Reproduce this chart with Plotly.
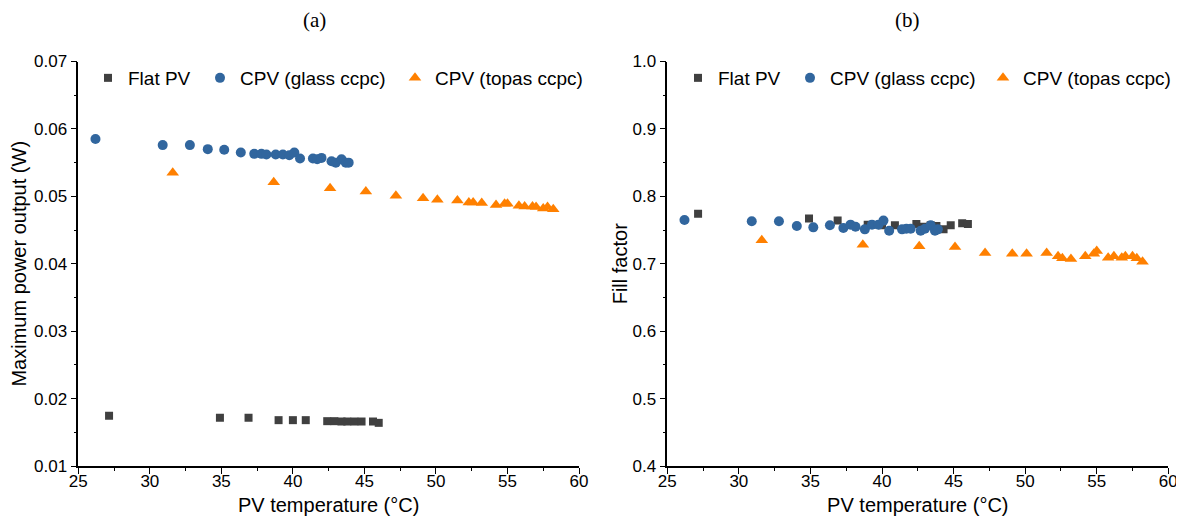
import plotly.graph_objects as go

# ---------------- data ----------------
flat_T = [27.15, 34.9, 36.9, 39.0, 40.0, 40.9, 42.4, 42.9, 43.4, 43.8, 44.3, 44.8, 45.6, 46.0]
flat_P = [0.01745, 0.01715, 0.01715, 0.0168, 0.0168, 0.0168, 0.01665, 0.01665, 0.0166, 0.0166,
          0.0166, 0.0166, 0.0166, 0.0164]
flat_FF = [0.774, 0.767, 0.764, 0.758, 0.757, 0.757, 0.759, 0.755, 0.757, 0.756, 0.751, 0.757,
           0.760, 0.759]

glass_T = [26.2, 30.9, 32.8, 34.05, 35.2, 36.36, 37.3, 37.8, 38.15, 38.8, 39.3, 39.75, 40.1,
           40.5, 41.4, 41.7, 42.0, 42.7, 43.0, 43.4, 43.7, 43.9]
glass_P = [0.0585, 0.0576, 0.0576, 0.0570, 0.0569, 0.0565, 0.0563, 0.0563, 0.0562, 0.0562,
           0.0562, 0.0561, 0.0565, 0.0556, 0.0556, 0.0555, 0.0557, 0.0552, 0.0550, 0.0555,
           0.0550, 0.0550]
glass_FF = [0.765, 0.763, 0.763, 0.756, 0.754, 0.757, 0.753, 0.758, 0.755, 0.751, 0.758, 0.758,
            0.764, 0.749, 0.751, 0.752, 0.752, 0.749, 0.752, 0.757, 0.749, 0.751]

topas_T = [31.6, 38.66, 42.6, 45.1, 47.2, 49.1, 50.1, 51.5, 52.3, 52.6, 53.2, 54.2, 54.8, 55.0,
           55.8, 56.2, 56.75, 57.0, 57.5, 57.8, 58.2]
topas_P = [0.0535, 0.0521, 0.0512, 0.0507, 0.0501, 0.0497, 0.0495, 0.0494, 0.0491, 0.0491,
           0.0490, 0.0487, 0.0489, 0.0489, 0.0486, 0.0485, 0.0485, 0.0484, 0.0482, 0.0484, 0.0481]
topas_FF = [0.735, 0.728, 0.726, 0.725, 0.716, 0.715, 0.715, 0.716, 0.711, 0.708, 0.707, 0.711,
            0.715, 0.719, 0.709, 0.711, 0.709, 0.711, 0.711, 0.708, 0.703]

series_names = ["Flat PV", "CPV (glass ccpc)", "CPV (topas ccpc)"]
colors = ["#404040", "#31669e", "#ff8000"]
symbols = ["square", "circle", "triangle-up"]
sizes = [8, 10, 11]

# page body margin of the browser (8px) is compensated for
OFF = 8
W, H = 1184 - OFF, 529 - OFF
FONT = "Liberation Sans, Arial, sans-serif"
SERIF = "Liberation Serif, Times New Roman, serif"


def px2x(p):
    return (p - OFF) / W


def py2y(p):
    return 1 - (p - OFF) / H


fig = go.Figure()

# legend text start positions (reference pixels) for each panel
legend_text_px = [[128, 240, 435], [718, 830, 1023]]
legend_y_px = 78

panels = [
    ("x", "y", [flat_P, glass_P, topas_P]),
    ("x2", "y2", [flat_FF, glass_FF, topas_FF]),
]
Ts = [flat_T, glass_T, topas_T]
legend_layouts = {}
k = 0
for p, (xa, ya, ys) in enumerate(panels):
    for i in range(3):
        k += 1
        lgname = "legend" if k == 1 else "legend%d" % k
        fig.add_trace(go.Scatter(
            x=Ts[i], y=ys[i], mode="markers", name=series_names[i],
            xaxis=xa, yaxis=ya, legend=lgname, showlegend=True,
            marker=dict(symbol=symbols[i], color=colors[i], size=sizes[i], line=dict(width=0)),
        ))
        legend_layouts[lgname] = dict(
            orientation="h", yanchor="middle", xanchor="left", bgcolor="rgba(0,0,0,0)",
            font=dict(family=FONT, size=19, color="black"), itemwidth=30,
            x=px2x(legend_text_px[p][i] - 40), y=py2y(legend_y_px),
        )

top_px, bot_px = 61.5, 466
TICKFONT = dict(family=FONT, size=17, color="black")
TITLEFONT = dict(family=FONT, size=20, color="black")
common_x = dict(
    range=[25, 60], dtick=5, tick0=25, showline=True, linecolor="black", linewidth=1.5,
    ticks="outside", ticklen=6, tickwidth=1.2, tickcolor="black", showgrid=False, zeroline=False,
    minor=dict(ticks="outside", ticklen=3, tickwidth=1.2, tickcolor="black", dtick=2.5),
    tickfont=TICKFONT, automargin=False, ticklabelstandoff=-7,
    title=dict(text="PV temperature (°C)", font=TITLEFONT, standoff=8),
)
common_y = dict(
    showline=True, linecolor="black", linewidth=1.5, automargin=False,
    ticks="outside", ticklen=6, tickwidth=1.2, tickcolor="black", showgrid=False, zeroline=False,
    tickfont=TICKFONT, domain=[py2y(bot_px), py2y(top_px)],
)

xa1 = dict(common_x); xa1.update(domain=[px2x(78.3), px2x(579)], anchor="y")
xa2 = dict(common_x); xa2.update(domain=[px2x(667.3), px2x(1168.3)], anchor="y2")
ya1 = dict(common_y); ya1.update(
    range=[0.01, 0.07], dtick=0.01, tick0=0.01, tickformat=".2f", anchor="x",
    minor=dict(ticks="outside", ticklen=3, tickwidth=1.2, tickcolor="black", dtick=0.005),
    title=dict(text="Maximum power output (W)", font=TITLEFONT, standoff=6))
ya2 = dict(common_y); ya2.update(
    range=[0.4, 1.0], dtick=0.1, tick0=0.4, tickformat=".1f", anchor="x2",
    minor=dict(ticks="outside", ticklen=3, tickwidth=1.2, tickcolor="black", dtick=0.05),
    title=dict(text="Fill factor", font=TITLEFONT, standoff=0))

fig.update_layout(
    width=W, height=H, margin=dict(l=0, r=0, t=0, b=0, autoexpand=False),
    paper_bgcolor="white", plot_bgcolor="white", showlegend=True,
    xaxis=xa1, yaxis=ya1, xaxis2=xa2, yaxis2=ya2,
    annotations=[
        dict(text="(a)", x=px2x(314), y=py2y(20), xref="paper", yref="paper", showarrow=False,
             xanchor="center", yanchor="middle",
             font=dict(family=SERIF, size=21, color="black")),
        dict(text="(b)", x=px2x(907), y=py2y(20), xref="paper", yref="paper", showarrow=False,
             xanchor="center", yanchor="middle",
             font=dict(family=SERIF, size=21, color="black")),
    ],
    **legend_layouts,
)

fig.write_html("out.html")
